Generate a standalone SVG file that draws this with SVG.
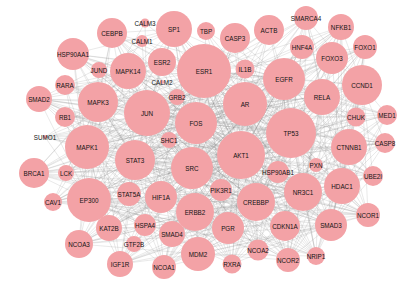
<svg xmlns="http://www.w3.org/2000/svg" width="407" height="286" viewBox="0 0 407 286">
<style>
.e{fill:none;stroke:#8c8c8c;stroke-width:0.32;stroke-opacity:0.6}
.n circle{fill:#F3A2A6}
.n text{font-family:"Liberation Sans",Arial,sans-serif;font-size:6.3px;fill:#141414;text-anchor:middle;dominant-baseline:central}
</style>
<rect width="407" height="286" fill="#ffffff"/>
<g id="connectors">
<path class="e" d="M204 71L174 29M204 71L206 31M204 71L112 33M204 71L73 54M204 71L128 71M204 71L98 102M204 71L65 85M204 71L39 99M204 71L65 117M204 71L87 147M204 71L135 160M204 71L192 168M204 71L34 173M204 71L89 200M204 71L161 197M204 71L195 212M204 71L109 228M204 71L79 244M204 71L164 267M204 71L241 155M204 71L342 186M204 71L256 202M204 71L303 192M204 71L368 215M204 71L228 228M204 71L285 226M204 71L331 225M204 71L258 250M204 71L288 260M204 71L316 256M204 71L232 264M204 71L362 85M204 71L322 97M204 71L291 133M204 71L284 79M204 71L245 104M204 71L349 147M204 71L332 58M204 71L365 47M204 71L341 27M204 71L306 18M204 71L387 115M204 71L373 176M204 71L120 264M204 71L53 202M204 71L45 137M204 71L235 38M204 71L269 30M204 71L145 23M204 71L142 41M204 71L162 62"/>
<path class="e" d="M147 113L174 29M147 113L112 33M147 113L73 54M147 113L162 62M147 113L128 71M147 113L99 70M147 113L65 85M147 113L39 99M147 113L98 102M147 113L65 117M147 113L45 137M147 113L87 147M147 113L135 160M147 113L192 168M147 113L34 173M147 113L66 173M147 113L89 200M147 113L53 202M147 113L129 194M147 113L161 197M147 113L195 212M147 113L109 228M147 113L145 225M147 113L172 234M147 113L79 244M147 113L198 254M147 113L120 264M147 113L164 267M147 113L241 155M147 113L221 190M147 113L256 202M147 113L303 192M147 113L342 186M147 113L368 215M147 113L228 228M147 113L285 226M147 113L331 225M147 113L258 250M147 113L288 260M147 113L232 264M147 113L291 133M147 113L245 104M147 113L284 79M147 113L322 97M147 113L362 85M147 113L349 147M147 113L235 38M147 113L269 30M147 113L306 18M147 113L341 27M147 113L332 58M147 113L365 47M147 113L302 47M147 113L356 117M147 113L385 143M147 113L373 176M147 113L145 23M147 113L142 41M147 113L162 82"/>
<path class="e" d="M241 155L174 29M241 155L206 31M241 155L235 38M241 155L269 30M241 155L302 47M241 155L332 58M241 155L365 47M241 155L341 27M241 155L245 69M241 155L284 79M241 155L362 85M241 155L322 97M241 155L356 117M241 155L387 115M241 155L291 133M241 155L385 143M241 155L349 147M241 155L316 165M241 155L342 186M241 155L373 176M241 155L368 215M241 155L331 225M241 155L303 192M241 155L285 226M241 155L316 256M241 155L288 260M241 155L258 250M241 155L232 264M241 155L228 228M241 155L256 202M241 155L221 190M241 155L198 254M241 155L164 267M241 155L195 212M241 155L172 234M241 155L145 225M241 155L161 197M241 155L129 194M241 155L120 264M241 155L79 244M241 155L109 228M241 155L89 200M241 155L53 202M241 155L34 173M241 155L66 173M241 155L87 147M241 155L135 160M241 155L98 102M241 155L128 71M241 155L73 54M241 155L112 33M241 155L65 85M241 155L39 99M241 155L65 117M241 155L45 137M241 155L169 140M241 155L177 97M241 155L196 123M241 155L278 172"/>
<path class="e" d="M291 133L174 29M291 133L112 33M291 133L73 54M291 133L128 71M291 133L98 102M291 133L65 85M291 133L39 99M291 133L65 117M291 133L45 137M291 133L87 147M291 133L135 160M291 133L34 173M291 133L89 200M291 133L53 202M291 133L129 194M291 133L161 197M291 133L195 212M291 133L109 228M291 133L172 234M291 133L79 244M291 133L198 254M291 133L120 264M291 133L164 267M291 133L228 228M291 133L256 202M291 133L303 192M291 133L342 186M291 133L368 215M291 133L331 225M291 133L285 226M291 133L288 260M291 133L316 256M291 133L258 250M291 133L232 264M291 133L373 176M291 133L385 143M291 133L387 115M291 133L356 117M291 133L362 85M291 133L365 47M291 133L341 27M291 133L332 58M291 133L306 18M291 133L302 47M291 133L269 30M291 133L235 38M291 133L206 31M291 133L245 69M291 133L284 79M291 133L322 97M291 133L316 165M291 133L278 172"/>
<path class="e" d="M192 168L174 29M192 168L112 33M192 168L73 54M192 168L99 70M192 168L65 85M192 168L39 99M192 168L65 117M192 168L45 137M192 168L34 173M192 168L66 173M192 168L53 202M192 168L79 244M192 168L109 228M192 168L120 264M192 168L134 244M192 168L164 267M192 168L198 254M192 168L232 264M192 168L258 250M192 168L288 260M192 168L316 256M192 168L331 225M192 168L368 215M192 168L342 186M192 168L373 176M192 168L385 143M192 168L387 115M192 168L356 117M192 168L362 85M192 168L365 47M192 168L341 27M192 168L332 58M192 168L306 18M192 168L302 47M192 168L269 30M192 168L235 38M192 168L284 79M192 168L322 97M192 168L349 147M192 168L316 165M192 168L169 140"/>
<path class="e" d="M196 123L112 33M196 123L73 54M196 123L39 99M196 123L65 85M196 123L65 117M196 123L45 137M196 123L34 173M196 123L53 202M196 123L79 244M196 123L120 264M196 123L164 267M196 123L198 254M196 123L232 264M196 123L258 250M196 123L288 260M196 123L316 256M196 123L331 225M196 123L368 215M196 123L342 186M196 123L373 176M196 123L385 143M196 123L387 115M196 123L362 85M196 123L365 47M196 123L341 27M196 123L332 58M196 123L306 18M196 123L269 30M196 123L235 38M196 123L89 200M196 123L87 147M196 123L303 192M196 123L256 202"/>
<path class="e" d="M87 147L112 33M87 147L73 54M87 147L99 70M87 147L65 85M87 147L39 99M87 147L65 117M87 147L45 137M87 147L34 173M87 147L66 173M87 147L53 202M87 147L79 244M87 147L109 228M87 147L120 264M87 147L134 244M87 147L164 267M87 147L172 234M87 147L145 225M87 147L198 254M87 147L232 264M87 147L228 228M87 147L256 202M87 147L303 192M87 147L342 186M87 147L331 225M87 147L285 226M87 147L368 215M87 147L245 104M87 147L284 79M87 147L322 97M87 147L362 85M87 147L349 147M87 147L174 29M87 147L128 71"/>
<path class="e" d="M89 200L73 54M89 200L39 99M89 200L65 85M89 200L65 117M89 200L45 137M89 200L34 173M89 200L66 173M89 200L53 202M89 200L79 244M89 200L109 228M89 200L120 264M89 200L134 244M89 200L164 267M89 200L172 234M89 200L145 225M89 200L198 254M89 200L232 264M89 200L258 250M89 200L288 260M89 200L316 256M89 200L331 225M89 200L368 215M89 200L342 186M89 200L303 192M89 200L256 202M89 200L228 228M89 200L285 226M89 200L245 104M89 200L284 79M89 200L128 71M89 200L98 102M89 200L135 160M89 200L161 197M89 200L112 33M89 200L174 29"/>
<path class="e" d="M245 104L174 29M245 104L206 31M245 104L235 38M245 104L269 30M245 104L306 18M245 104L341 27M245 104L302 47M245 104L332 58M245 104L365 47M245 104L362 85M245 104L322 97M245 104L356 117M245 104L387 115M245 104L385 143M245 104L349 147M245 104L373 176M245 104L342 186M245 104L368 215M245 104L331 225M245 104L303 192M245 104L285 226M245 104L316 256M245 104L288 260M245 104L258 250M245 104L232 264M245 104L228 228M245 104L256 202M245 104L198 254M245 104L164 267M245 104L172 234M245 104L120 264M245 104L79 244M245 104L109 228M245 104L53 202M245 104L34 173M245 104L66 173M245 104L45 137M245 104L65 117M245 104L39 99M245 104L65 85M245 104L73 54M245 104L112 33M245 104L245 69"/>
<path class="e" d="M284 79L174 29M284 79L206 31M284 79L235 38M284 79L269 30M284 79L306 18M284 79L341 27M284 79L302 47M284 79L332 58M284 79L365 47M284 79L362 85M284 79L322 97M284 79L356 117M284 79L387 115M284 79L385 143M284 79L349 147M284 79L373 176M284 79L342 186M284 79L368 215M284 79L331 225M284 79L303 192M284 79L285 226M284 79L316 256M284 79L288 260M284 79L258 250M284 79L232 264M284 79L228 228M284 79L256 202M284 79L198 254M284 79L195 212M284 79L164 267M284 79L172 234M284 79L161 197M284 79L135 160M284 79L98 102M284 79L128 71M284 79L73 54M284 79L112 33M284 79L245 69"/>
<path class="e" d="M256 202L306 18M256 202L341 27M256 202L332 58M256 202L365 47M256 202L362 85M256 202L322 97M256 202L356 117M256 202L387 115M256 202L385 143M256 202L349 147M256 202L373 176M256 202L342 186M256 202L368 215M256 202L331 225M256 202L316 256M256 202L288 260M256 202L258 250M256 202L232 264M256 202L198 254M256 202L164 267M256 202L172 234M256 202L145 225M256 202L134 244M256 202L120 264M256 202L109 228M256 202L79 244M256 202L53 202M256 202L34 173M256 202L66 173M256 202L45 137M256 202L39 99M256 202L73 54M256 202L112 33M256 202L174 29"/>
<path class="e" d="M303 192L306 18M303 192L341 27M303 192L332 58M303 192L365 47M303 192L362 85M303 192L322 97M303 192L356 117M303 192L387 115M303 192L385 143M303 192L349 147M303 192L373 176M303 192L368 215M303 192L316 256M303 192L288 260M303 192L258 250M303 192L232 264M303 192L198 254M303 192L164 267M303 192L120 264M303 192L79 244M303 192L112 33M303 192L73 54M303 192L39 99M303 192L34 173M331 225L341 27M331 225L365 47M331 225L362 85M331 225L322 97M331 225L356 117M331 225L387 115M331 225L385 143M331 225L349 147M331 225L373 176M331 225L368 215M331 225L316 256M331 225L288 260M331 225L258 250M331 225L232 264M331 225L198 254M331 225L164 267M331 225L120 264M331 225L79 244M331 225L109 228M331 225L39 99M331 225L73 54"/>
<path class="e" d="M342 186L362 85M342 186L387 115M342 186L385 143M342 186L373 176M342 186L368 215M342 186L316 256M342 186L288 260M342 186L258 250M342 186L232 264M342 186L198 254M342 186L332 58M342 186L365 47M342 186L341 27M342 186L306 18M342 186L164 267M342 186L120 264M362 85L306 18M362 85L341 27M362 85L365 47M362 85L332 58M362 85L387 115M362 85L385 143M362 85L356 117M362 85L373 176M362 85L368 215M362 85L316 256M362 85L288 260M362 85L232 264M362 85L164 267M362 85L198 254M98 102L112 33M98 102L73 54M98 102L99 70M98 102L65 85M98 102L39 99M98 102L65 117M98 102L45 137M98 102L34 173M98 102L66 173M98 102L53 202M98 102L79 244M98 102L109 228M98 102L120 264M98 102L164 267M98 102L174 29M98 102L142 41M98 102L145 23M135 160L73 54M135 160L112 33M135 160L39 99M135 160L34 173M135 160L53 202M135 160L79 244M135 160L120 264M135 160L164 267M135 160L198 254M135 160L232 264M135 160L288 260M135 160L316 256M135 160L368 215M135 160L385 143M135 160L362 85M135 160L341 27M135 160L306 18M135 160L174 29"/>
<path class="e" d="M195 212L79 244M195 212L120 264M195 212L164 267M195 212L232 264M195 212L258 250M195 212L288 260M195 212L316 256M195 212L368 215M195 212L385 143M195 212L34 173M195 212L53 202M228 228L79 244M228 228L120 264M228 228L164 267M228 228L288 260M228 228L316 256M228 228L368 215M228 228L34 173M228 228L53 202M228 228L109 228M198 254L79 244M198 254L120 264M198 254L288 260M198 254L316 256M198 254L368 215M161 197L79 244M161 197L120 264M161 197L34 173M161 197L39 99M161 197L368 215M349 147L306 18M349 147L341 27M349 147L365 47M349 147L387 115M349 147L385 143M349 147L373 176M349 147L368 215M349 147L316 256M349 147L288 260M322 97L306 18M322 97L341 27M322 97L365 47M322 97L387 115M322 97L385 143M322 97L368 215M322 97L316 256M322 97L288 260M174 29L112 33M174 29L73 54M174 29L145 23M174 29L142 41M174 29L39 99M128 71L73 54M128 71L112 33M128 71L39 99M128 71L65 85M128 71L34 173"/>
<path class="e" d="M147 113L196 123M147 113L204 71M196 123L204 71M196 123L241 155M196 123L192 168M196 123L245 104M196 123L291 133M196 123L284 79M196 123L135 160M196 123L98 102M196 123L128 71M196 123L161 197M196 123L195 212M196 123L228 228M196 123L221 190M196 123L177 97M196 123L169 140M204 71L245 104M204 71L284 79M204 71L177 97M204 71L169 140M204 71L196 123M245 104L291 133M245 104L192 168M245 104L135 160M245 104L221 190M245 104L278 172M245 104L195 212M284 79L241 155M284 79L192 168M284 79L221 190M284 79L278 172M291 133L192 168M291 133L221 190M291 133L241 155M241 155L192 168M241 155L303 192M192 168L135 160M192 168L161 197M192 168L221 190M192 168L256 202M192 168L303 192M192 168L228 228M135 160L98 102M135 160L128 71M135 160L161 197M135 160L129 194M135 160L169 140M135 160L177 97M135 160L221 190M135 160L256 202M135 160L303 192M135 160L278 172M98 102L128 71M98 102L87 147M98 102L135 160M98 102L177 97M98 102L169 140M98 102L161 197M98 102L195 212M128 71L162 62M128 71L177 97M128 71L169 140M128 71L196 123M128 71L192 168M128 71L161 197M161 197L221 190M161 197L256 202M161 197L195 212M161 197L169 140M195 212L221 190M195 212L256 202M195 212L303 192M195 212L278 172M221 190L256 202M221 190L177 97M221 190L169 140M256 202L303 192M256 202L278 172M278 172L303 192M177 97L169 140M177 97L192 168M177 97L241 155M169 140L245 104M169 140L284 79M162 62L196 123M162 62L192 168M162 62L245 104M162 62L241 155M162 62L98 102M162 62L87 147M245 69L196 123M245 69L192 168M245 69L147 113M235 38L196 123M235 38L192 168M235 38L135 160M174 29L196 123M174 29L192 168M174 29L147 113M174 29L245 104M174 29L241 155"/>
</g>
<g id="n-CALM3" class="n"><circle cx="145" cy="23" r="4.5"/><text x="145" y="23">CALM3</text></g>
<g id="n-SP1" class="n"><circle cx="174" cy="29" r="18"/><text x="174" y="29">SP1</text></g>
<g id="n-TBP" class="n"><circle cx="206" cy="31" r="9"/><text x="206" y="31">TBP</text></g>
<g id="n-CEBPB" class="n"><circle cx="112" cy="33" r="15"/><text x="112" y="33">CEBPB</text></g>
<g id="n-CALM1" class="n"><circle cx="142" cy="41" r="6"/><text x="142" y="41">CALM1</text></g>
<g id="n-HSP90AA1" class="n"><circle cx="73" cy="54" r="16"/><text x="73" y="54">HSP90AA1</text></g>
<g id="n-ESR2" class="n"><circle cx="162" cy="62" r="14"/><text x="162" y="62">ESR2</text></g>
<g id="n-ESR1" class="n"><circle cx="204" cy="71" r="27"/><text x="204" y="71">ESR1</text></g>
<g id="n-JUND" class="n"><circle cx="99" cy="70" r="8"/><text x="99" y="70">JUND</text></g>
<g id="n-MAPK14" class="n"><circle cx="128" cy="71" r="18"/><text x="128" y="71">MAPK14</text></g>
<g id="n-CALM2" class="n"><circle cx="162" cy="82" r="2"/><text x="162" y="82">CALM2</text></g>
<g id="n-RARA" class="n"><circle cx="65" cy="85" r="10"/><text x="65" y="85">RARA</text></g>
<g id="n-SMAD2" class="n"><circle cx="39" cy="99" r="13"/><text x="39" y="99">SMAD2</text></g>
<g id="n-MAPK3" class="n"><circle cx="98" cy="102" r="20"/><text x="98" y="102">MAPK3</text></g>
<g id="n-GRB2" class="n"><circle cx="177" cy="97" r="8"/><text x="177" y="97">GRB2</text></g>
<g id="n-JUN" class="n"><circle cx="147" cy="113" r="23"/><text x="147" y="113">JUN</text></g>
<g id="n-FOS" class="n"><circle cx="196" cy="123" r="21"/><text x="196" y="123">FOS</text></g>
<g id="n-RB1" class="n"><circle cx="65" cy="117" r="10"/><text x="65" y="117">RB1</text></g>
<g id="n-SUMO1" class="n"><circle cx="45" cy="137" r="2"/><text x="45" y="137">SUMO1</text></g>
<g id="n-SHC1" class="n"><circle cx="169" cy="140" r="8"/><text x="169" y="140">SHC1</text></g>
<g id="n-SMARCA4" class="n"><circle cx="306" cy="18" r="12"/><text x="306" y="18">SMARCA4</text></g>
<g id="n-NFKB1" class="n"><circle cx="341" cy="27" r="13"/><text x="341" y="27">NFKB1</text></g>
<g id="n-CASP3" class="n"><circle cx="235" cy="38" r="15"/><text x="235" y="38">CASP3</text></g>
<g id="n-ACTB" class="n"><circle cx="269" cy="30" r="15"/><text x="269" y="30">ACTB</text></g>
<g id="n-HNF4A" class="n"><circle cx="302" cy="47" r="12"/><text x="302" y="47">HNF4A</text></g>
<g id="n-FOXO1" class="n"><circle cx="365" cy="47" r="12"/><text x="365" y="47">FOXO1</text></g>
<g id="n-FOXO3" class="n"><circle cx="332" cy="58" r="16"/><text x="332" y="58">FOXO3</text></g>
<g id="n-IL1B" class="n"><circle cx="245" cy="69" r="9.5"/><text x="245" y="69">IL1B</text></g>
<g id="n-EGFR" class="n"><circle cx="284" cy="79" r="21"/><text x="284" y="79">EGFR</text></g>
<g id="n-CCND1" class="n"><circle cx="362" cy="85" r="20"/><text x="362" y="85">CCND1</text></g>
<g id="n-AR" class="n"><circle cx="245" cy="104" r="22"/><text x="245" y="104">AR</text></g>
<g id="n-RELA" class="n"><circle cx="322" cy="97" r="18"/><text x="322" y="97">RELA</text></g>
<g id="n-CHUK" class="n"><circle cx="356" cy="117" r="9.5"/><text x="356" y="117">CHUK</text></g>
<g id="n-MED1" class="n"><circle cx="387" cy="115" r="10"/><text x="387" y="115">MED1</text></g>
<g id="n-TP53" class="n"><circle cx="291" cy="133" r="25"/><text x="291" y="133">TP53</text></g>
<g id="n-CASP8" class="n"><circle cx="385" cy="143" r="10"/><text x="385" y="143">CASP8</text></g>
<g id="n-CTNNB1" class="n"><circle cx="349" cy="147" r="18"/><text x="349" y="147">CTNNB1</text></g>
<g id="n-MAPK1" class="n"><circle cx="87" cy="147" r="22"/><text x="87" y="147">MAPK1</text></g>
<g id="n-STAT3" class="n"><circle cx="135" cy="160" r="20"/><text x="135" y="160">STAT3</text></g>
<g id="n-SRC" class="n"><circle cx="192" cy="168" r="21"/><text x="192" y="168">SRC</text></g>
<g id="n-BRCA1" class="n"><circle cx="34" cy="173" r="15"/><text x="34" y="173">BRCA1</text></g>
<g id="n-LCK" class="n"><circle cx="66" cy="173" r="8"/><text x="66" y="173">LCK</text></g>
<g id="n-EP300" class="n"><circle cx="89" cy="200" r="22"/><text x="89" y="200">EP300</text></g>
<g id="n-CAV1" class="n"><circle cx="53" cy="202" r="9"/><text x="53" y="202">CAV1</text></g>
<g id="n-STAT5A" class="n"><circle cx="129" cy="194" r="12"/><text x="129" y="194">STAT5A</text></g>
<g id="n-HIF1A" class="n"><circle cx="161" cy="197" r="16"/><text x="161" y="197">HIF1A</text></g>
<g id="n-ERBB2" class="n"><circle cx="195" cy="212" r="19"/><text x="195" y="212">ERBB2</text></g>
<g id="n-KAT2B" class="n"><circle cx="109" cy="228" r="13"/><text x="109" y="228">KAT2B</text></g>
<g id="n-HSPA4" class="n"><circle cx="145" cy="225" r="11"/><text x="145" y="225">HSPA4</text></g>
<g id="n-SMAD4" class="n"><circle cx="172" cy="234" r="13"/><text x="172" y="234">SMAD4</text></g>
<g id="n-NCOA3" class="n"><circle cx="79" cy="244" r="14"/><text x="79" y="244">NCOA3</text></g>
<g id="n-GTF2B" class="n"><circle cx="134" cy="244" r="8"/><text x="134" y="244">GTF2B</text></g>
<g id="n-MDM2" class="n"><circle cx="198" cy="254" r="17"/><text x="198" y="254">MDM2</text></g>
<g id="n-IGF1R" class="n"><circle cx="120" cy="264" r="13"/><text x="120" y="264">IGF1R</text></g>
<g id="n-NCOA1" class="n"><circle cx="164" cy="267" r="12"/><text x="164" y="267">NCOA1</text></g>
<g id="n-AKT1" class="n"><circle cx="241" cy="155" r="24"/><text x="241" y="155">AKT1</text></g>
<g id="n-HSP90AB1" class="n"><circle cx="278" cy="172" r="11"/><text x="278" y="172">HSP90AB1</text></g>
<g id="n-PXN" class="n"><circle cx="316" cy="165" r="7"/><text x="316" y="165">PXN</text></g>
<g id="n-HDAC1" class="n"><circle cx="342" cy="186" r="18"/><text x="342" y="186">HDAC1</text></g>
<g id="n-UBE2I" class="n"><circle cx="373" cy="176" r="10"/><text x="373" y="176">UBE2I</text></g>
<g id="n-PIK3R1" class="n"><circle cx="221" cy="190" r="11"/><text x="221" y="190">PIK3R1</text></g>
<g id="n-CREBBP" class="n"><circle cx="256" cy="202" r="19"/><text x="256" y="202">CREBBP</text></g>
<g id="n-NR3C1" class="n"><circle cx="303" cy="192" r="19"/><text x="303" y="192">NR3C1</text></g>
<g id="n-NCOR1" class="n"><circle cx="368" cy="215" r="12"/><text x="368" y="215">NCOR1</text></g>
<g id="n-PGR" class="n"><circle cx="228" cy="228" r="16"/><text x="228" y="228">PGR</text></g>
<g id="n-CDKN1A" class="n"><circle cx="285" cy="226" r="15"/><text x="285" y="226">CDKN1A</text></g>
<g id="n-SMAD3" class="n"><circle cx="331" cy="225" r="16"/><text x="331" y="225">SMAD3</text></g>
<g id="n-NCOA2" class="n"><circle cx="258" cy="250" r="10.5"/><text x="258" y="250">NCOA2</text></g>
<g id="n-NCOR2" class="n"><circle cx="288" cy="260" r="12"/><text x="288" y="260">NCOR2</text></g>
<g id="n-NRIP1" class="n"><circle cx="316" cy="256" r="9"/><text x="316" y="256">NRIP1</text></g>
<g id="n-RXRA" class="n"><circle cx="232" cy="264" r="9.5"/><text x="232" y="264">RXRA</text></g>
</svg>
